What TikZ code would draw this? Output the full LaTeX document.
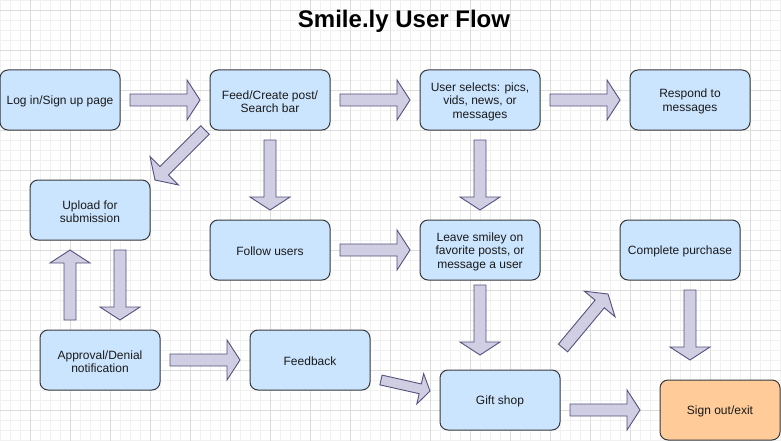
\documentclass[tikz,border=0pt]{standalone}
\usepackage{fontspec}
\setmainfont{Liberation Sans}
\usetikzlibrary{calc}
\definecolor{boxfill}{HTML}{CCE5FF}
\definecolor{boxline}{HTML}{36393D}
\definecolor{arrfill}{HTML}{D0CEE2}
\definecolor{arrline}{HTML}{56517E}
\definecolor{orfill}{HTML}{FFCC99}
\definecolor{gridminor}{HTML}{F1F1F1}
\definecolor{gridmajor}{HTML}{DCDCDC}
\newcommand\bsw{6}
\newcommand\bhw{20}
\newcommand\bhl{13}
\newcommand\barrow[2]{%
  \coordinate (hb) at ($(#2)!\bhl pt!(#1)$);
  \draw[blkarrow] ($(#1)!\bsw pt!90:(#2)$) -- ($(hb)!\bsw pt!90:(#2)$)
    -- ($(hb)!\bhw pt!90:(#2)$) -- (#2) -- ($(hb)!\bhw pt!-90:(#2)$)
    -- ($(hb)!\bsw pt!-90:(#2)$) -- ($(#1)!\bsw pt!-90:(#2)$) -- cycle;
}
\begin{document}
\begin{tikzpicture}[x=1pt,y=-1pt,
  boxnode/.style={rectangle, rounded corners=8pt, minimum width=120pt, minimum height=60pt,
    draw=boxline, fill=boxfill, line width=1pt, inner sep=0pt},
  boxtext/.style={align=center, inner sep=0pt,
    font=\fontsize{12}{13.5}\selectfont, text=black!90},
  blkarrow/.style={draw=arrline, fill=arrfill, line width=0.9pt, line join=miter},
  gminor/.style={draw=gridminor, line width=0.8pt},
  gmajor/.style={draw=gridmajor, line width=0.8pt}]
\useasboundingbox (0,0) rectangle (781,441);
\fill[white] (0,0) rectangle (781,441);
\foreach \x in {0,10,...,780} \draw[gminor] (\x,0) -- (\x,441);
\foreach \y in {0,10,...,440} \draw[gminor] (0,\y) -- (781,\y);
\foreach \x in {30,70,...,770} \draw[gmajor] (\x,0) -- (\x,441);
\foreach \y in {10,50,...,410} \draw[gmajor] (0,\y) -- (781,\y);

\node[anchor=base, font=\fontsize{24}{28}\selectfont\bfseries] (title) at (404,28) {Smile.ly User Flow};

\node[boxnode] (login) at (60,100) {};
\node[boxnode] (feed) at (270,100) {};
\node[boxnode] (usel) at (480,100) {};
\node[boxnode] (resp) at (690,100) {};
\node[boxnode] (upload) at (90,210) {};
\node[boxnode] (follow) at (270,250) {};
\node[boxnode] (leave) at (480,250) {};
\node[boxnode] (compl) at (680,250) {};
\node[boxnode] (approv) at (100,360) {};
\node[boxnode] (feedb) at (310,360) {};
\node[boxnode] (gift) at (500,400) {};
\node[boxnode, fill=orfill] (signout) at (720,410) {};

\node[boxtext] (loginT) at ([yshift=-1.5pt]login.center) {Log in/Sign up page};
\node[boxtext] (feedT) at ([yshift=-1.5pt]feed.center) {Feed/Create post/\\Search bar};
\node[boxtext] (uselT) at ([yshift=-1.5pt]usel.center) {User selects: pics,\\vids, news, or\\messages};
\node[boxtext] (respT) at ([yshift=-1.5pt]resp.center) {Respond to\\messages};
\node[boxtext] (uploadT) at ([yshift=-1.5pt]upload.center) {Upload for\\submission};
\node[boxtext] (followT) at ([yshift=-1.5pt]follow.center) {Follow users};
\node[boxtext] (leaveT) at ([yshift=-1.5pt]leave.center) {Leave smiley on\\favorite posts, or\\message a user};
\node[boxtext] (complT) at ([yshift=-1.5pt]compl.center) {Complete purchase};
\node[boxtext] (approvT) at ([yshift=-1.5pt]approv.center) {Approval/Denial\\notification};
\node[boxtext] (feedbT) at ([yshift=-1.5pt]feedb.center) {Feedback};
\node[boxtext] (giftT) at ([yshift=-1.5pt]gift.center) {Gift shop};
\node[boxtext] (signoutT) at ([yshift=-1.5pt]signout.center) {Sign out/exit};

\coordinate (a1s) at (130,100); \coordinate (a1e) at (200,100);
\coordinate (a2s) at (340,100); \coordinate (a2e) at (410,100);
\coordinate (a3s) at (550,100); \coordinate (a3e) at (620,100);
\coordinate (a4s) at (205,130); \coordinate (a4e) at (155,180);
\coordinate (a5s) at (270,140); \coordinate (a5e) at (270,210);
\coordinate (a6s) at (480,140); \coordinate (a6e) at (480,210);
\coordinate (a7s) at (340,250); \coordinate (a7e) at (410,250);
\coordinate (a8s) at (480,285); \coordinate (a8e) at (480,355);
\coordinate (a9s) at (70,320); \coordinate (a9e) at (70,250);
\coordinate (a10s) at (120,250); \coordinate (a10e) at (120,320);
\coordinate (a11s) at (170,360); \coordinate (a11e) at (240,360);
\coordinate (a12s) at (381,380); \coordinate (a12e) at (430,391);
\coordinate (a13s) at (570,410); \coordinate (a13e) at (640,410);
\coordinate (a14s) at (563,348); \coordinate (a14e) at (608,294);
\coordinate (a15s) at (690,290); \coordinate (a15e) at (690,360);

\barrow{a1s}{a1e}
\barrow{a2s}{a2e}
\barrow{a3s}{a3e}
\barrow{a4s}{a4e}
\barrow{a5s}{a5e}
\barrow{a6s}{a6e}
\barrow{a7s}{a7e}
\barrow{a8s}{a8e}
\barrow{a9s}{a9e}
\barrow{a10s}{a10e}
\barrow{a11s}{a11e}
{\renewcommand\bsw{5}\renewcommand\bhw{15.5}\renewcommand\bhl{10}\barrow{a12s}{a12e}}
\barrow{a13s}{a13e}
\barrow{a14s}{a14e}
\barrow{a15s}{a15e}
\end{tikzpicture}
\end{document}
